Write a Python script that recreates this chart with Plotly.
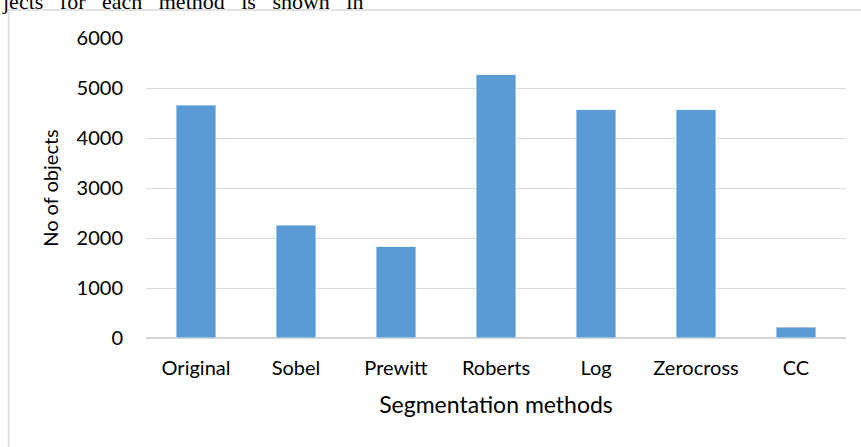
import plotly.graph_objects as go

methods = ["Original", "Sobel", "Prewitt", "Roberts", "Log", "Zerocross", "CC"]
objects = [4660, 2260, 1830, 5270, 4570, 4570, 220]
y_ticks = [0, 1000, 2000, 3000, 4000, 5000, 6000]

W, H = 861, 447
L, R, T, B = 146, 15, 38, 109
pw, ph = W - L - R, H - T - B

def px(x):
    return (x - L) / pw

def py(y):
    return (H - B - y) / ph

font = "Lato, 'Open Sans', sans-serif"
sp = "&nbsp;&nbsp;&nbsp;"
top_words = ["jects", "for", "each", "method", "is", "shown", "in"]

fig = go.Figure(go.Bar(
    x=methods, y=objects,
    marker=dict(color="#5B9BD5", line=dict(color="#ffffff", width=0.8)),
    width=0.4,
))

fig.update_layout(
    width=W, height=H,
    margin=dict(l=L, r=R, t=T, b=B, autoexpand=False),
    paper_bgcolor="white", plot_bgcolor="white",
    showlegend=False,
    font=dict(family=font, size=20, color="#000000"),
    xaxis=dict(
        showgrid=False, showline=False, ticks="",
        tickfont=dict(size=20), ticklabelstandoff=16,
        title=dict(text="Segmentation methods", font=dict(size=23), standoff=18),
        automargin=False,
    ),
    yaxis=dict(
        range=[0, 6000], tickvals=y_ticks,
        showgrid=True, gridcolor="#d9d9d9", gridwidth=1,
        zeroline=True, zerolinecolor="#d4d4d4", zerolinewidth=2,
        showline=False, ticks="",
        tickfont=dict(size=20), ticklabelstandoff=22,
        title=dict(text="No of objects", font=dict(size=20), standoff=12),
        automargin=False,
    ),
    shapes=[
        dict(type="line", xref="paper", yref="paper",
             x0=px(8.5), x1=px(W + 5), y0=py(10), y1=py(10),
             line=dict(color="#d9d9d9", width=1.5)),
        dict(type="line", xref="paper", yref="paper",
             x0=px(8.5), x1=px(8.5), y0=py(10), y1=py(H + 5),
             line=dict(color="#d9d9d9", width=1.5)),
    ],
    annotations=[
        dict(text=sp.join(top_words),
             xref="paper", yref="paper", x=px(0), y=py(16),
             xanchor="left", yanchor="bottom", showarrow=False,
             font=dict(family="'Liberation Serif', 'Times New Roman', serif", size=22, color="#000000")),
    ],
)

fig.write_html("out.html")
